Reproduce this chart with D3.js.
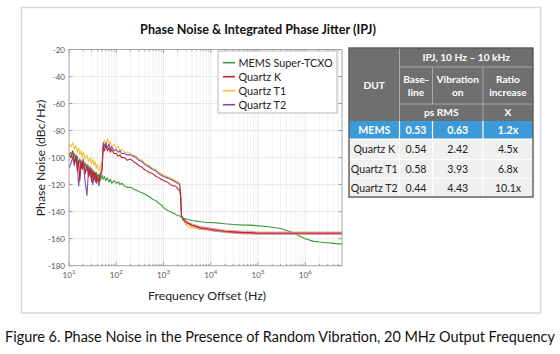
<!DOCTYPE html>
<html><head><meta charset="utf-8">
<script src="https://cdn.jsdelivr.net/npm/d3@7"></script>
<style>body{margin:0;background:#fff}svg{display:block}text{font-family:Lato,"Open Sans",sans-serif}</style>
</head><body>
<script>
// ---- data ----
const freqs = [10,11,12,13,14,15,16,17,18,19,20,22,24,26,28,30,32,34,36,38,40,43,46,50,53,56,60,65,70,75,80,90,100,110,120,130,150,170,200,230,260,300,350,400,450,500,600,700,800,900,1000,1200,1400,1600,1800,2000,2200,2300,2400,2600,3000,3500,4000,5000,6000,8000,10000,15000,20000,30000,50000,70000,100000,150000,200000,300000,400000,500000,700000,1000000,1500000,2000000,3000000,4000000,6000000];
const memsPN = [-98,-96,-101,-97,-103,-99,-105,-101,-107,-103,-108,-104,-110,-106,-112,-108,-114,-110,-115,-111,-116,-112,-117,-113,-116,-114,-117,-115,-118,-116,-119,-117,-119,-118,-120,-119,-121,-122,-122,-123,-124,-125,-126,-127,-128,-129,-131,-132,-134,-135,-137,-139,-140,-141,-142,-143,-143,-144,-144,-145,-145.5,-146,-146.5,-147,-147.5,-148,-148,-148.5,-149,-149.5,-150,-150,-150.5,-151,-151.5,-152.5,-154,-155,-157.5,-160,-162,-162.5,-163,-163.5,-164];
const quartzKPN = [-97,-100,-95,-104,-99,-110,-102,-117,-104,-108,-101,-112,-105,-114,-107,-118,-109,-116,-111,-119,-113,-118,-114,-110,-92,-95,-91,-95,-93,-96,-94,-97,-97,-99,-98,-100,-100,-102,-101,-103,-104,-106,-107,-109,-110,-111,-112,-114,-115,-116,-117,-118,-120,-121,-121,-123,-124,-129,-143,-146,-148,-149,-150,-151,-152,-152.5,-153,-154,-154.5,-155,-155.5,-155.5,-156,-156,-156,-156,-156,-156,-156,-156,-156,-156,-156,-156,-156];
const quartzT1PN = [-90,-92,-89,-94,-91,-96,-93,-98,-95,-100,-96,-101,-98,-103,-100,-105,-101,-106,-103,-108,-105,-110,-107,-104,-90,-87,-91,-86,-90,-88,-92,-90,-93,-92,-95,-94,-96,-96,-97,-98,-99,-101,-102,-104,-105,-106,-108,-109,-111,-112,-113,-114,-115,-116,-117,-118,-119,-124,-144,-146,-150,-152,-152,-152.5,-153,-153.5,-154,-154.5,-155,-155.5,-155.5,-156,-156,-156,-156,-156,-156,-156,-156,-156,-156,-156,-156,-156,-156];
const quartzT2PN = [-108,-104,-100,-106,-98,-103,-121,-112,-102,-109,-103,-118,-128,-108,-114,-110,-120,-112,-118,-113,-116,-121,-112,-108,-89,-92,-89,-93,-90,-94,-92,-95,-94,-96,-95,-97,-97,-98,-98,-99,-100,-102,-103,-105,-106,-107,-109,-110,-112,-113,-114,-115,-116,-117,-118,-119,-120,-126,-143,-145,-147,-149,-150,-151,-152,-153,-154,-154.5,-155,-155.5,-155.5,-156,-156,-156,-156,-156,-156,-156,-156,-156,-156,-156,-156,-156,-156];
const seriesNames = ["MEMS Super-TCXO","Quartz K","Quartz T1","Quartz T2"];
const seriesColors = ["#3a9c3a","#c0262c","#f4c23c","#7b4fa3"];
const yTicks = [-20,-40,-60,-80,-100,-120,-140,-160,-180];
const xTickExps = [1,2,3,4,5,6];

const tableTitle = "IPJ,  10 Hz \u2013 10 kHz";
const dutNames = ["MEMS","Quartz K","Quartz T1","Quartz T2"];
const baseline = ["0.53","0.54","0.58","0.44"];
const vibration = ["0.63","2.42","3.93","4.43"];
const ratio = ["1.2x","4.5x","6.8x","10.1x"];

// ---- drawing ----
const W=560,H=354;
const svg=d3.select("body").append("svg").attr("width",W).attr("height",H);
svg.append("rect").attr("width",W).attr("height",H).attr("fill","#fff");
svg.append("rect").attr("x",21.5).attr("y",7.5).attr("width",519).attr("height",305.5)
  .attr("fill","#fff").attr("stroke","#d8d8d8").attr("stroke-width",1.5);

const L=69,R=342,T=49.5,B=265.7;
const x=d3.scaleLog().domain([10,6e6]).range([L,R]);
const y=d3.scaleLinear().domain([-180,-20]).range([B,T]);

// grid
const minors=[];
for(let e=1;e<=6;e++){for(let m=2;m<=9;m++){const f=m*Math.pow(10,e);if(f<6e6)minors.push(f);}}
const g=svg.append("g");
g.selectAll(".mg").data(minors).join("line").attr("x1",d=>x(d)).attr("x2",d=>x(d)).attr("y1",T).attr("y2",B)
  .attr("stroke","#efefef").attr("stroke-width",0.8);
g.selectAll(".Mg").data(xTickExps.slice(1)).join("line").attr("x1",d=>x(Math.pow(10,d))).attr("x2",d=>x(Math.pow(10,d))).attr("y1",T).attr("y2",B)
  .attr("stroke","#e2e2e2").attr("stroke-width",0.8);
g.selectAll(".hg").data(yTicks.slice(1,-1)).join("line").attr("x1",L).attr("x2",R).attr("y1",d=>y(d)).attr("y2",d=>y(d))
  .attr("stroke","#e2e2e2").attr("stroke-width",0.8);

// ticks
const tk=svg.append("g").attr("stroke","#8a8a8a").attr("stroke-width",0.8);
minors.forEach(f=>{tk.append("line").attr("x1",x(f)).attr("x2",x(f)).attr("y1",B).attr("y2",B-1.8);
  tk.append("line").attr("x1",x(f)).attr("x2",x(f)).attr("y1",T).attr("y2",T+1.8);});
xTickExps.forEach(e=>{const xx=x(Math.pow(10,e));tk.append("line").attr("x1",xx).attr("x2",xx).attr("y1",B).attr("y2",B-3.5);
  tk.append("line").attr("x1",xx).attr("x2",xx).attr("y1",T).attr("y2",T+3.5);});
yTicks.forEach(v=>{tk.append("line").attr("x1",L).attr("x2",L+3.5).attr("y1",y(v)).attr("y2",y(v));
  tk.append("line").attr("x1",R).attr("x2",R-3.5).attr("y1",y(v)).attr("y2",y(v));});

// tick labels
svg.selectAll(".yl").data(yTicks).join("text").attr("x",L-4).attr("y",d=>y(d)+3).attr("text-anchor","end")
  .attr("font-size",8).attr("fill","#555").text(d=>d);
xTickExps.forEach(e=>{
  const t=svg.append("text").attr("x",x(Math.pow(10,e))).attr("y",B+12).attr("text-anchor","middle").attr("font-size",8).attr("fill","#555");
  t.append("tspan").text("10");
  t.append("tspan").attr("dy",-3.5).attr("font-size",6).text(e);
});

// series
const allSeries=[memsPN,quartzKPN,quartzT1PN,quartzT2PN];
const line=d3.line().x(d=>x(d[0])).y(d=>y(d[1]));
const clip=svg.append("clipPath").attr("id","pc").append("rect").attr("x",L).attr("y",T).attr("width",R-L).attr("height",B-T);
const pl=svg.append("g").attr("clip-path","url(#pc)");
const order=[0,2,3,1];
order.forEach(i=>{
  const pts=freqs.map((f,j)=>[f,allSeries[i][j]]);
  if(i===1){
    pl.append("path").attr("d",line(pts.filter(p=>p[0]>=3000))).attr("fill","none")
      .attr("stroke","#dc8f8c").attr("stroke-width",3.6).attr("opacity",0.75);
  }
  pl.append("path").attr("d",line(pts)).attr("fill","none").attr("stroke",seriesColors[i])
    .attr("stroke-width",1.1).attr("stroke-linejoin","round");
});

// frame
svg.append("rect").attr("x",L).attr("y",T).attr("width",R-L).attr("height",B-T).attr("fill","none")
  .attr("stroke","#9a9a9a").attr("stroke-width",0.9);

// legend
const lg=svg.append("g");
lg.append("rect").attr("x",218).attr("y",51).attr("width",119).attr("height",62).attr("fill","#fff").attr("stroke","#a8a8a8").attr("stroke-width",0.8);
seriesNames.forEach((n,i)=>{
  const yy=62.7+i*14;
  lg.append("line").attr("x1",223).attr("x2",235).attr("y1",yy).attr("y2",yy).attr("stroke",seriesColors[i]).attr("stroke-width",1.6);
  lg.append("text").attr("x",238.5).attr("y",yy+3.8).attr("font-size",10.8).attr("fill","#222").text(n);
});

// labels
svg.append("text").attr("x",258).attr("y",34).attr("text-anchor","middle").attr("font-size",12.6).attr("font-weight","bold").attr("fill","#111")
  .text("Phase Noise & Integrated Phase Jitter (IPJ)");
svg.append("text").attr("transform","translate(45,158) rotate(-90)").attr("text-anchor","middle").attr("font-size",12.3).attr("fill","#222")
  .text("Phase Noise (dBc/Hz)");
svg.append("text").attr("x",207).attr("y",300).attr("text-anchor","middle").attr("font-size",12.3).attr("fill","#222")
  .text("Frequency Offset (Hz)");
const cap=svg.append("text").attr("x",280).attr("y",341.5).attr("text-anchor","middle").attr("font-size",13.5).attr("fill","#111")
  .text("Figure 6. Phase Noise in the Presence of Random Vibration, 20 MHz Output Frequency");
const cl=cap.node().getComputedTextLength();
cap.attr("font-size",13.5*550/cl);

// table
const cx=[349,399.5,432.5,483,533];
const ry=[48,67,104,121,139,159.5,178.5,197];
const tb=svg.append("g");
const hdr="#6f6f6f", hl="#a9a9a9";
tb.append("rect").attr("x",cx[0]).attr("y",ry[0]).attr("width",cx[4]-cx[0]).attr("height",ry[3]-ry[0]).attr("fill",hdr);
tb.append("rect").attr("x",cx[0]).attr("y",ry[3]).attr("width",cx[4]-cx[0]).attr("height",ry[4]-ry[3]).attr("fill","#3d9ad9");
tb.append("rect").attr("x",cx[0]).attr("y",ry[4]).attr("width",cx[4]-cx[0]).attr("height",ry[7]-ry[4]).attr("fill","#f0f0f0");
// header lines
const hlines=[[cx[1],ry[0],cx[1],ry[3]],[cx[1],ry[1],cx[4],ry[1]],[cx[1],ry[2],cx[4],ry[2]],[cx[2],ry[1],cx[2],ry[2]],[cx[3],ry[1],cx[3],ry[3]]];
hlines.forEach(l=>tb.append("line").attr("x1",l[0]).attr("y1",l[1]).attr("x2",l[2]).attr("y2",l[3]).attr("stroke",hl).attr("stroke-width",1));
// body lines
[cx[1],cx[2],cx[3]].forEach(xx=>tb.append("line").attr("x1",xx).attr("x2",xx).attr("y1",ry[3]).attr("y2",ry[7]).attr("stroke","#fff").attr("stroke-width",1.2));
[ry[4],ry[5],ry[6]].forEach(yy=>tb.append("line").attr("x1",cx[0]).attr("x2",cx[4]).attr("y1",yy).attr("y2",yy).attr("stroke","#fff").attr("stroke-width",1.2));
tb.append("rect").attr("x",cx[0]).attr("y",ry[0]).attr("width",cx[4]-cx[0]).attr("height",ry[7]-ry[0]).attr("fill","none").attr("stroke","#5a5a5a").attr("stroke-width",1.4);
function ht(xx,yy,s){tb.append("text").attr("x",xx).attr("y",yy).attr("text-anchor","middle").attr("font-size",10.2).attr("font-weight","bold").attr("fill","#fff").text(s);}
const mid=(a,b)=>(a+b)/2;
ht(mid(cx[1],cx[4]),61,tableTitle);
ht(mid(cx[0],cx[1]),89,"DUT");
ht(mid(cx[1],cx[2]),83,"Base-");ht(mid(cx[1],cx[2]),96,"line");
ht(mid(cx[2],cx[3]),83,"Vibration");ht(mid(cx[2],cx[3]),96,"on");
ht(mid(cx[3],cx[4]),83,"Ratio");ht(mid(cx[3],cx[4]),96,"increase");
ht(mid(cx[1],cx[3]),116,"ps RMS");
ht(mid(cx[3],cx[4]),116,"X");
dutNames.forEach((n,i)=>{
  const yy=mid(ry[3+i],ry[4+i])+3.8;
  const isM=i===0;
  const cols=[n,baseline[i],vibration[i],ratio[i]];
  cols.forEach((s,j)=>{
    tb.append("text").attr("x",mid(cx[j],cx[j+1])).attr("y",yy).attr("text-anchor","middle")
      .attr("font-size",10.6).attr("font-weight",isM?"bold":"normal").attr("fill",isM?"#fff":"#222").text(s);
  });
});
</script>
</body></html>
